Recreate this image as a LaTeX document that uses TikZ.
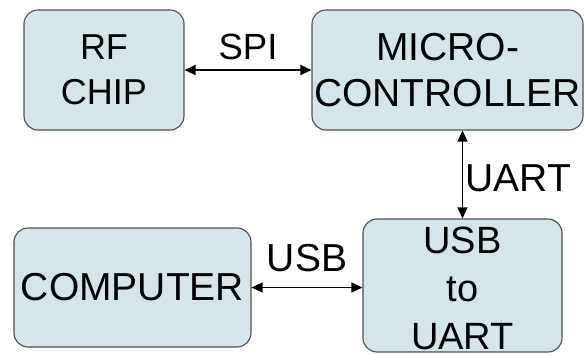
\documentclass[tikz,border=0pt]{standalone}
\usepackage{fontspec}
\setmainfont{Liberation Sans}
\usetikzlibrary{arrows.meta}
\definecolor{blockfill}{RGB}{213,229,234}
\definecolor{blockedge}{RGB}{80,80,80}
\newcommand\boxfont{\fontsize{39}{46}\selectfont}
\newcommand\smallboxfont{\fontsize{36}{45}\selectfont}
\tikzset{
  block/.style={draw=blockedge, fill=blockfill, line width=1.1pt,
    rounded corners=14pt, inner sep=0pt, align=center, font=\boxfont},
  link/.style={line width=1.2pt, {Triangle[length=11pt,width=10pt]}-{Triangle[length=11pt,width=10pt]}},
  linklabel/.style={inner sep=0pt, font=\boxfont}
}
\begin{document}
\begin{tikzpicture}[x=1pt, y=-1pt]
  \useasboundingbox (0,0) rectangle (584,354);

  % blocks
  \node[block, font=\smallboxfont, minimum width=160pt, minimum height=120pt]
    (rf) at (104,70) {RF\\CHIP};
  \node[block, minimum width=271pt, minimum height=120pt]
    (mcu) at (447.5,70) {MICRO-\\CONTROLLER};
  \node[block, minimum width=237pt, minimum height=119pt]
    (pc) at (132.5,287.5) {COMPUTER};
  \node[block, minimum width=199pt, minimum height=133pt,
    label={[name=usbtext, inner sep=0pt, align=center, font=\fontsize{38}{48}\selectfont, yshift=-3pt]center:USB\\to\\UART}]
    (usb) at (462.5,285.5) {};

  % connections
  \draw[link] (rf.east) -- (mcu.west)
    node[linklabel, midway, above=10pt, font=\fontsize{36.5}{44}\selectfont] (spi) {SPI};
  \draw[link] (mcu.south -| usb.north) -- (usb.north)
    node[linklabel, midway, right=2.5pt, yshift=-3.5pt] (uart) {UART};
  \draw[link] (pc.east) -- (pc.east -| usb.west)
    node[linklabel, midway, above=15pt] (usblink) {USB};
\end{tikzpicture}
\end{document}
